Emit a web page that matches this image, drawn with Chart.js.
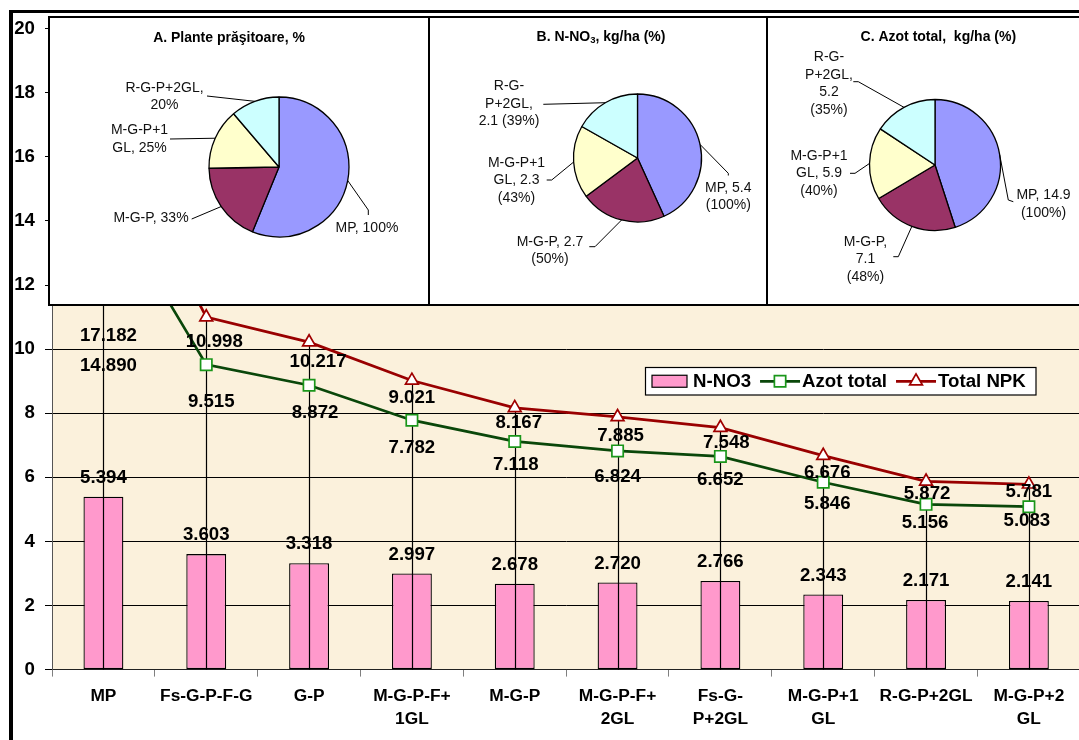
<!DOCTYPE html>
<html>
<head>
<meta charset="utf-8">
<script src="https://cdn.jsdelivr.net/npm/chart.js@4.4.1/dist/chart.umd.min.js"></script>
<style>
  html, body { margin: 0; padding: 0; background: #fff; }
  #stage { position: relative; width: 1079px; height: 740px; overflow: hidden; }
  #main { position: absolute; left: 0; top: 0; }
  .inset { position: absolute; top: 16px; height: 290px; box-sizing: border-box; border: 2px solid #000; background: #fff; }
  .inset canvas { display: block; }
  .frame { position: absolute; left: 9px; top: 10px; width: 1200px; height: 900px; box-sizing: border-box;
           border-left: 4px solid #000; border-top: 3px solid #000; pointer-events: none; }
</style>
</head>
<body>
<div id="stage">
  <canvas id="main" width="1090" height="740"></canvas>
  <div class="inset" style="left:48px;width:382px"><canvas id="pieA" width="378" height="286"></canvas></div>
  <div class="inset" style="left:428px;width:340px"><canvas id="pieB" width="336" height="286"></canvas></div>
  <div class="inset" style="left:766px;width:340px"><canvas id="pieC" width="336" height="286"></canvas></div>
  <div class="frame"></div>
</div>
<script>
const FONT = "Arial, 'Liberation Sans', Helvetica, sans-serif";

// ---------- main chart data ----------
const categories = ['MP', 'Fs-G-P-F-G', 'G-P', ['M-G-P-F+', '1GL'], 'M-G-P', ['M-G-P-F+', '2GL'],
                    ['Fs-G-', 'P+2GL'], ['M-G-P+1', 'GL'], 'R-G-P+2GL', ['M-G-P+2', 'GL']];
const nNO3      = [5.394, 3.603, 3.318, 2.997, 2.678, 2.720, 2.766, 2.343, 2.171, 2.141];
const azotTotal = [14.890, 9.515, 8.872, 7.782, 7.118, 6.824, 6.652, 5.846, 5.156, 5.083];
const totalNPK  = [17.182, 10.998, 10.217, 9.021, 8.167, 7.885, 7.548, 6.676, 5.872, 5.781];
const yTicks    = [0, 2, 4, 6, 8, 10, 12, 14, 16, 18, 20];

// ---------- inset pie data ----------
const pieCategories = ['MP', 'M-G-P', 'M-G-P+1GL', 'R-G-P+2GL'];
const hoeCropShare  = [100, 33, 25, 20];
const nitrateKg     = [5.4, 2.7, 2.3, 2.1];
const nitratePct    = [100, 50, 43, 39];
const azotKg        = [14.9, 7.1, 5.9, 5.2];
const azotPct       = [100, 48, 40, 35];
const sliceColors   = ['#9999FF', '#993366', '#FFFFCC', '#CCFFFF'];

// value label placement, [dx, dy] in px from each point
const azotLabelShift = [[5, 173], [5, 37], [6, 27.5], [0, 28], [1, 23.5], [0, 26], [0, 23.5], [4, 22], [-1, 19], [-2, 14.5]];
const npkLabelShift  = [[5, 217], [8, 25], [9, 19.5], [0, 17.5], [4, 15], [3, 19], [6, 15.5], [4, 17], [1, 12], [0, 8]];
const barLabelLift = 19;
const legendFrame = { x: 645.5, y: 367.5, w: 390.5, h: 27.5 };

const plotBackground = {
  id: 'plotBackground',
  beforeDraw(chart) {
    const { ctx, chartArea: a } = chart;
    ctx.save();
    ctx.fillStyle = '#FBF1DC';
    ctx.fillRect(a.left, a.top, a.right - a.left, a.bottom - a.top);
    ctx.restore();
  }
};

const dropLines = {
  id: 'dropLines',
  afterDatasetDraw(chart, args) {
    if (args.index !== 0) return;
    const { ctx, scales: { x, y } } = chart;
    ctx.save();
    ctx.strokeStyle = '#000';
    ctx.lineWidth = 1.2;
    categories.forEach((c, i) => {
      const px = Math.round(x.getPixelForValue(i)) + 0.5;
      ctx.beginPath();
      ctx.moveTo(px, y.getPixelForValue(Math.max(azotTotal[i], totalNPK[i])));
      ctx.lineTo(px, y.getPixelForValue(0));
      ctx.stroke();
    });
    ctx.restore();
  }
};

const valueLabels = {
  id: 'valueLabels',
  afterDatasetsDraw(chart) {
    const ctx = chart.ctx;
    ctx.save();
    ctx.font = `bold 18.67px ${FONT}`;
    ctx.fillStyle = '#000';
    ctx.textAlign = 'center';
    ctx.textBaseline = 'middle';
    chart.getDatasetMeta(0).data.forEach((el, i) => {
      ctx.fillText(nNO3[i].toFixed(3), el.x, el.y - barLabelLift);
    });
    chart.getDatasetMeta(1).data.forEach((el, i) => {
      ctx.fillText(azotTotal[i].toFixed(3), el.x + azotLabelShift[i][0], el.y + azotLabelShift[i][1]);
    });
    chart.getDatasetMeta(2).data.forEach((el, i) => {
      ctx.fillText(totalNPK[i].toFixed(3), el.x + npkLabelShift[i][0], el.y + npkLabelShift[i][1]);
    });
    ctx.restore();
  }
};

const insideLegend = {
  id: 'insideLegend',
  afterDraw(chart) {
    const ctx = chart.ctx;
    const L = legendFrame;
    ctx.save();
    ctx.fillStyle = '#fff';
    ctx.fillRect(L.x, L.y, L.w, L.h);
    ctx.strokeStyle = '#000';
    ctx.lineWidth = 1.2;
    ctx.strokeRect(L.x, L.y, L.w, L.h);
    const cy = L.y + L.h / 2;
    ctx.font = `bold 18.67px ${FONT}`;
    ctx.textBaseline = 'middle';
    ctx.textAlign = 'left';
    let x = L.x + 6.5;
    chart.data.datasets.forEach(ds => {
      if (ds.type === 'bar') {
        ctx.fillStyle = ds.backgroundColor;
        ctx.fillRect(x, cy - 6, 35, 12);
        ctx.strokeStyle = '#000';
        ctx.lineWidth = 1.2;
        ctx.strokeRect(x, cy - 6, 35, 12);
        x += 41;
      } else {
        ctx.strokeStyle = ds.borderColor;
        ctx.lineWidth = ds.borderWidth;
        ctx.beginPath();
        ctx.moveTo(x, cy);
        ctx.lineTo(x + 40, cy);
        ctx.stroke();
        ctx.fillStyle = ds.pointBackgroundColor;
        ctx.strokeStyle = ds.pointBorderColor;
        ctx.lineWidth = ds.pointBorderWidth;
        Chart.helpers.drawPoint(ctx, { pointStyle: ds.pointStyle, radius: ds.pointRadius, rotation: 0, borderWidth: ds.pointBorderWidth }, x + 20, cy);
        x += 42;
      }
      ctx.fillStyle = '#000';
      ctx.fillText(ds.label, x, cy + 0.5);
      x += ctx.measureText(ds.label).width + 9;
    });
    ctx.restore();
  }
};

new Chart(document.getElementById('main'), {
  data: {
    labels: categories,
    datasets: [
      { type: 'bar', label: 'N-NO3', data: nNO3, backgroundColor: '#FF99CC', borderColor: '#000',
        borderWidth: 1.3, borderSkipped: false, barPercentage: 0.388, categoryPercentage: 1, order: 3 },
      { type: 'line', label: 'Azot total', data: azotTotal, borderColor: '#0A470A', borderWidth: 2.75,
        pointStyle: 'rect', pointRadius: 8, pointBackgroundColor: '#fff', pointBorderColor: '#1A961A',
        pointBorderWidth: 1.7, tension: 0, fill: false, order: 2 },
      { type: 'line', label: 'Total NPK', data: totalNPK, borderColor: '#990000', borderWidth: 2.75,
        pointStyle: 'triangle', pointRadius: 7.4, pointBackgroundColor: '#fff', pointBorderColor: '#A00000',
        pointBorderWidth: 1.7, tension: 0, fill: false, order: 1 }
    ]
  },
  options: {
    responsive: false,
    animation: false,
    devicePixelRatio: 1,
    events: [],
    layout: { padding: { left: 0, top: 28.6, right: 5.7, bottom: 0 } },
    plugins: { legend: { display: false }, tooltip: { enabled: false }, title: { display: false } },
    scales: {
      x: {
        offset: true,
        afterFit(scale) { scale.height = 70.4; },
        grid: { display: true, drawOnChartArea: false, drawTicks: true, tickLength: 7, offset: true, color: '#7f7f7f', lineWidth: 1 },
        border: { display: true, color: '#222', width: 1 },
        ticks: { autoSkip: false, maxRotation: 0, minRotation: 0, padding: 8, color: '#000',
                 font: { family: FONT, size: 17.33, weight: 'bold', lineHeight: 1.34 } }
      },
      y: {
        min: 0, max: 20,
        afterFit(scale) { scale.width = 52; },
        afterBuildTicks(scale) { scale.ticks = yTicks.map(v => ({ value: v })); },
        grid: { color: '#000', lineWidth: 1, tickLength: 7, tickColor: '#000' },
        border: { display: true, color: '#555', width: 1 },
        ticks: { padding: 10, color: '#000', font: { family: FONT, size: 18.67, weight: 'bold' } }
      }
    }
  },
  plugins: [plotBackground, dropLines, valueLabels, insideLegend]
});

// ---------- inset pies ----------
function sliceLabels(cfg) {
  return {
    id: 'sliceLabels',
    afterDatasetsDraw(chart) {
      const ctx = chart.ctx;
      const meta = chart.getDatasetMeta(0);
      ctx.save();
      // title
      ctx.fillStyle = '#000';
      ctx.textBaseline = 'middle';
      ctx.textAlign = 'left';
      const big = `bold 14px ${FONT}`, small = `bold 9.5px ${FONT}`;
      let total = 0;
      cfg.title.parts.forEach(p => { ctx.font = p.sub ? small : big; total += ctx.measureText(p.t).width; });
      let tx = cfg.title.x - total / 2;
      cfg.title.parts.forEach(p => {
        ctx.font = p.sub ? small : big;
        ctx.fillText(p.t, tx, cfg.title.y + (p.sub ? 3.5 : 0));
        tx += ctx.measureText(p.t).width;
      });
      // slice labels with leader lines
      const LH = 17.5;
      ctx.font = `14px ${FONT}`;
      ctx.textAlign = 'center';
      meta.data.forEach((arc, i) => {
        const spec = cfg.labels[i];
        const p = arc.getProps(['x', 'y', 'startAngle', 'endAngle', 'outerRadius'], true);
        const mid = (p.startAngle + p.endAngle) / 2;
        ctx.beginPath();
        ctx.moveTo(p.x + Math.cos(mid) * p.outerRadius, p.y + Math.sin(mid) * p.outerRadius);
        spec.leader.forEach(pt => ctx.lineTo(pt[0], pt[1]));
        ctx.strokeStyle = '#000';
        ctx.lineWidth = 1;
        ctx.stroke();
        const lines = spec.lines.map(s => s.replace('{v}', String(cfg.values[i])).replace('{p}', String(cfg.pct[i])));
        const top = spec.y - (lines.length - 1) * LH / 2;
        ctx.fillStyle = '#111';
        lines.forEach((s, k) => ctx.fillText(s, spec.x, top + k * LH));
      });
      ctx.restore();
    }
  };
}

function makePie(id, values, radius, padding, cfg) {
  new Chart(document.getElementById(id), {
    type: 'pie',
    data: {
      labels: pieCategories,
      datasets: [{ data: values, backgroundColor: sliceColors, borderColor: '#000', borderWidth: 1.3, hoverOffset: 0 }]
    },
    options: {
      responsive: false,
      animation: false,
      devicePixelRatio: 1,
      events: [],
      radius: radius,
      layout: { padding },
      plugins: { legend: { display: false }, tooltip: { enabled: false } }
    },
    plugins: [sliceLabels(cfg)]
  });
}

makePie('pieA', hoeCropShare, 70, { left: 159, right: 79, top: 79, bottom: 67 }, {
  values: hoeCropShare, pct: hoeCropShare,
  title: { x: 179, y: 20.3, parts: [{ t: 'A. Plante prăşitoare, %' }] },
  labels: [
    { lines: ['MP, {p}%'], x: 317, y: 210, leader: [[318.3, 192], [318.3, 197]] },
    { lines: ['M-G-P, {p}%'], x: 101, y: 200, leader: [[141.7, 201]] },
    { lines: ['M-G-P+1', 'GL, {p}%'], x: 89.5, y: 121, leader: [[120, 121]] },
    { lines: ['R-G-P+2GL,', '{p}%'], x: 114.5, y: 78.5, leader: [[157, 78]] }
  ]
});

makePie('pieB', nitrateKg, 64, { left: 143.5, right: 64.5, top: 76, bottom: 82 }, {
  values: nitrateKg, pct: nitratePct,
  title: { x: 171, y: 19, parts: [{ t: 'B. N-NO' }, { t: '3', sub: true }, { t: ', kg/ha (%)' }] },
  labels: [
    { lines: ['MP, {v}', '({p}%)'], x: 298.3, y: 178.5, leader: [[298.3, 155.3], [298.3, 157.5]] },
    { lines: ['M-G-P, {v}', '({p}%)'], x: 120, y: 232.5, leader: [[165, 228.7], [159.3, 228.7]] },
    { lines: ['M-G-P+1', 'GL, {v}', '({p}%)'], x: 86.5, y: 162.5, leader: [[121.7, 162], [116.7, 162]] },
    { lines: ['R-G-', 'P+2GL,', '{v} ({p}%)'], x: 79, y: 86, leader: [[113.3, 86.3]] }
  ]
});

makePie('pieC', azotKg, 65.5, { left: 101.5, right: 103.5, top: 81.5, bottom: 73.5 }, {
  values: azotKg, pct: azotPct,
  title: { x: 170.3, y: 18.7, parts: [{ t: 'C. Azot total,  kg/ha (%)' }] },
  labels: [
    { lines: ['MP, {v}', '({p}%)'], x: 275.5, y: 186, leader: [[240.3, 182], [245.3, 183.7]] },
    { lines: ['M-G-P,', '{v}', '({p}%)'], x: 97.5, y: 241.5, leader: [[130.3, 238.7], [125.3, 238.7]] },
    { lines: ['M-G-P+1', 'GL, {v}', '({p}%)'], x: 51, y: 155.5, leader: [[87, 155.3], [82, 155.3]] },
    { lines: ['R-G-', 'P+2GL,', '{v}', '({p}%)'], x: 61, y: 65.75, leader: [[90.3, 63.7], [85.3, 63.7]] }
  ]
});
</script>
</body>
</html>
